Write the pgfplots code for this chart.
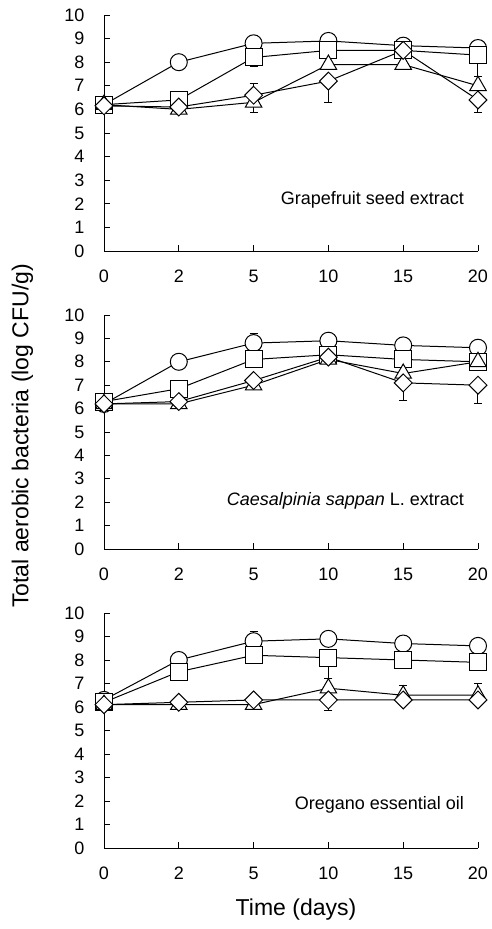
\documentclass[border=0pt]{standalone}
\usepackage{fontspec}
\setmainfont{Liberation Sans}
\usepackage{pgfplots}
\pgfplotsset{compat=1.18}
\pgfplotsset{
  panel/.style={
    width=374pt, scale only axis,
    xmin=0, xmax=5, ymin=0, ymax=10,
    axis x line*=bottom, axis y line*=left,
    axis line style={line width=0.8pt, black},
    xtick={0,1,2,3,4,5}, xticklabels={0,2,5,10,15,20},
    ytick={0,1,...,10},
    tick align=inside, major tick length=6pt,
    tick style={line width=0.8pt, black},
    ticklabel style={font=\fontsize{18}{18}\selectfont},
    xticklabel style={anchor=base, yshift=-32pt},
    yticklabel style={anchor=east, xshift=-16pt},
    /pgf/number format/assume math mode=true,
    clip=false,
    anchor=south west,
  },
  ser/.style={black, line width=1pt,
    error bars/y dir=both, error bars/y explicit,
    error bars/error bar style={line width=1pt, black},
    error bars/error mark options={rotate=90, mark size=4pt, line width=1pt, black}},
  circ/.style={ser, mark=*, mark options={fill=white, solid, mark size=8.5pt}},
  sq/.style={ser, mark=square*, mark options={fill=white, solid, mark size=8.5pt}},
  tri/.style={ser, mark=triangle*, mark options={fill=white, solid, mark size=9.5pt}},
  dia/.style={ser, mark=square*, mark options={fill=white, solid, rotate=45, mark size=6.3pt}},
}
\begin{document}
\begin{tikzpicture}
% Panel 1: Grapefruit seed extract
\begin{axis}[panel, height=236pt, at={(104pt,678pt)}]
\addplot[circ] coordinates {(0,6.2) (1,8.0) (2,8.8) += (0,0.35) -= (0,0) (3,8.9) (4,8.7) (5,8.6)};
\addplot[sq] coordinates {(0,6.2) (1,6.4) (2,8.2) += (0,0) -= (0,0.4) (3,8.5) (4,8.5) (5,8.3) += (0,0) -= (0,0.9)};
\addplot[tri] coordinates {(0,6.2) (1,6.0) (2,6.3) += (0,0) -= (0,0.45) (3,7.9) (4,7.9) (5,7.0)};
\addplot[dia] coordinates {(0,6.15) (1,6.1) (2,6.6) += (0,0.5) -= (0,0) (3,7.2) += (0,0) -= (0,0.9) (4,8.5) (5,6.4) += (0,0) -= (0,0.55)};
\node[anchor=base east, font=\fontsize{18}{18}\selectfont] at (axis cs:4.86,1.95) {Grapefruit seed extract};
\end{axis}
% Panel 2: Caesalpinia sappan L. extract
\begin{axis}[panel, height=234pt, at={(104pt,380pt)}]
\addplot[circ] coordinates {(0,6.2) (1,8.0) (2,8.8) += (0,0.4) -= (0,0) (3,8.9) (4,8.7) (5,8.6)};
\addplot[sq] coordinates {(0,6.3) (1,6.85) (2,8.1) (3,8.3) (4,8.1) (5,8.0)};
\addplot[tri] coordinates {(0,6.2) (1,6.2) (2,7.0) (3,8.1) (4,7.5) (5,8.0)};
\addplot[dia] coordinates {(0,6.2) (1,6.3) (2,7.2) (3,8.2) (4,7.1) += (0,0) -= (0,0.75) (5,7.0) += (0,0) -= (0,0.8)};
\node[anchor=base east, font=\fontsize{18}{18}\selectfont] at (axis cs:4.86,1.87) {\textit{Caesalpinia sappan} L. extract};
\end{axis}
% Panel 3: Oregano essential oil
\begin{axis}[panel, height=235pt, at={(104pt,81pt)}]
\addplot[circ] coordinates {(0,6.3) (1,8.0) (2,8.8) += (0,0.4) -= (0,0) (3,8.9) (4,8.7) (5,8.6)};
\addplot[sq] coordinates {(0,6.2) (1,7.5) (2,8.2) (3,8.1) += (0,0) -= (0,0.9) (4,8.0) (5,7.9)};
\addplot[tri] coordinates {(0,6.1) (1,6.1) (2,6.1) (3,6.8) (4,6.5) += (0,0.4) -= (0,0) (5,6.5) += (0,0.5) -= (0,0)};
\addplot[dia] coordinates {(0,6.1) (1,6.2) (2,6.3) (3,6.3) += (0,0) -= (0,0.45) (4,6.3) (5,6.3)};
\node[anchor=base east, font=\fontsize{18}{18}\selectfont] at (axis cs:4.86,1.62) {Oregano essential oil};
\end{axis}
\node[rotate=90, font=\fontsize{23}{23}\selectfont] at (22.5pt,493pt) {Total aerobic bacteria (log CFU/g)};
\node[font=\fontsize{23}{23}\selectfont] at (296pt,19pt) {Time (days)};
\pgfresetboundingbox
\useasboundingbox (0,0) rectangle (491pt,929pt);
\end{tikzpicture}
\end{document}
